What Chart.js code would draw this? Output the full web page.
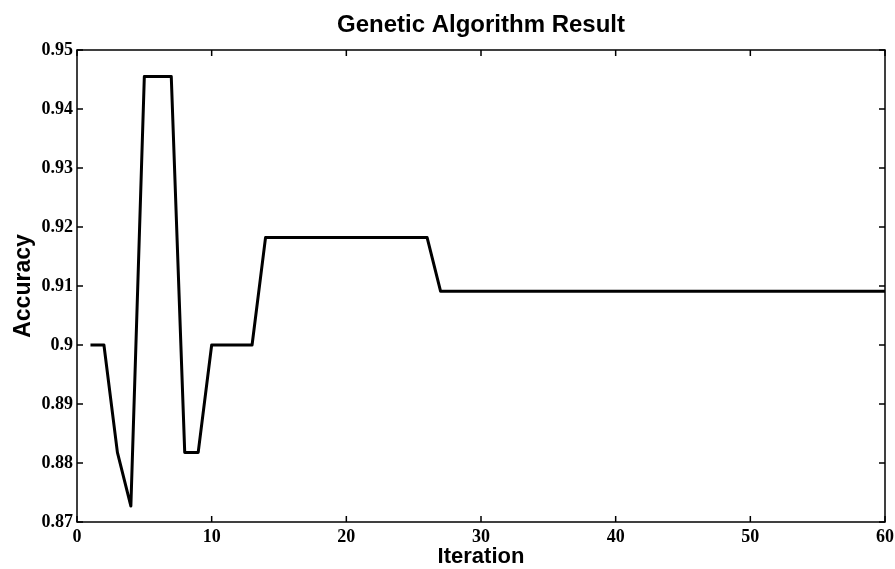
<!DOCTYPE html>
<html>
<head>
<meta charset="utf-8">
<script src="https://cdn.jsdelivr.net/npm/chart.js@4/dist/chart.umd.min.js"></script>
<style>
    html, body { margin: 0; padding: 0; background: #fff; }
    #wrap { width: 895px; height: 569px; }
</style>
</head>
<body>
<div id="wrap"><canvas id="gaChart" width="895" height="569"></canvas></div>
<script>
// iteration numbers and best accuracy per iteration
const iterations = [
    1, 2, 3, 4, 5, 6, 7, 8, 9, 10,
    11, 12, 13, 14, 15, 16, 17, 18, 19, 20,
    21, 22, 23, 24, 25, 26, 27, 28, 29, 30,
    31, 32, 33, 34, 35, 36, 37, 38, 39, 40,
    41, 42, 43, 44, 45, 46, 47, 48, 49, 50,
    51, 52, 53, 54, 55, 56, 57, 58, 59, 60
];
const accuracy = [
    0.9000, 0.9000, 0.8818, 0.8727, 0.9455, 0.9455, 0.9455, 0.8818, 0.8818, 0.9000,
    0.9000, 0.9000, 0.9000, 0.9182, 0.9182, 0.9182, 0.9182, 0.9182, 0.9182, 0.9182,
    0.9182, 0.9182, 0.9182, 0.9182, 0.9182, 0.9182, 0.9091, 0.9091, 0.9091, 0.9091,
    0.9091, 0.9091, 0.9091, 0.9091, 0.9091, 0.9091, 0.9091, 0.9091, 0.9091, 0.9091,
    0.9091, 0.9091, 0.9091, 0.9091, 0.9091, 0.9091, 0.9091, 0.9091, 0.9091, 0.9091,
    0.9091, 0.9091, 0.9091, 0.9091, 0.9091, 0.9091, 0.9091, 0.9091, 0.9091, 0.9091
];
const xTicks = [0, 10, 20, 30, 40, 50, 60];
const yTicks = [0.87, 0.88, 0.89, 0.9, 0.91, 0.92, 0.93, 0.94, 0.95];

const chartTitle = 'Genetic Algorithm Result';
const xLabel = 'Iteration';
const yLabel = 'Accuracy';

// matlab style box with inward ticks on all four sides
const boxTicks = {
    id: 'boxTicks',
    afterDraw(chart) {
        const { ctx, chartArea: a, scales } = chart;
        const len = 6;
        ctx.save();
        ctx.strokeStyle = '#000';
        ctx.lineWidth = 1.5;
        ctx.strokeRect(a.left, a.top, a.right - a.left, a.bottom - a.top);
        ctx.beginPath();
        xTicks.forEach(v => {
            const px = scales.x.getPixelForValue(v);
            ctx.moveTo(px, a.bottom); ctx.lineTo(px, a.bottom - len);
            ctx.moveTo(px, a.top); ctx.lineTo(px, a.top + len);
        });
        yTicks.forEach(v => {
            const py = scales.y.getPixelForValue(v);
            ctx.moveTo(a.left, py); ctx.lineTo(a.left + len, py);
            ctx.moveTo(a.right, py); ctx.lineTo(a.right - len, py);
        });
        ctx.stroke();
        ctx.restore();
    }
};

const tickFont = { family: 'Liberation Serif', size: 18, weight: 'bold' };

new Chart(document.getElementById('gaChart'), {
    type: 'line',
    data: {
        datasets: [{
            data: iterations.map((it, i) => ({ x: it, y: accuracy[i] })),
            borderColor: '#000',
            borderWidth: 3,
            borderJoinStyle: 'round',
            pointRadius: 0,
            tension: 0,
            fill: false
        }]
    },
    options: {
        responsive: false,
        animation: false,
        layout: { padding: { left: 0, right: 10, top: 0, bottom: 0 } },
        plugins: {
            legend: { display: false },
            tooltip: { enabled: false },
            title: { display: false }
        },
        scales: {
            x: {
                type: 'linear',
                min: 0,
                max: 60,
                afterBuildTicks: s => { s.ticks = xTicks.map(v => ({ value: v })); },
                afterFit: s => { s.height = 47; s.paddingLeft = 0; s.paddingRight = 0; },
                grid: { display: false, drawTicks: false },
                border: { display: false },
                ticks: { color: '#000', font: tickFont, padding: 5, maxRotation: 0 },
                title: {
                    display: true, text: xLabel, color: '#000',
                    font: { family: 'Liberation Sans', size: 22, weight: 'bold', lineHeight: 1 },
                    padding: { top: 0, bottom: 1 }
                }
            },
            x2: {
                type: 'linear',
                position: 'top',
                min: 0,
                max: 60,
                afterFit: s => { s.height = 50; s.paddingLeft = 0; s.paddingRight = 0; },
                grid: { display: false, drawTicks: false },
                border: { display: false },
                ticks: { display: false },
                title: {
                    display: true, text: chartTitle, color: '#000',
                    font: { family: 'Liberation Sans', size: 24, weight: 'bold', lineHeight: 1 },
                    padding: { top: 13, bottom: 0 }
                }
            },
            y: {
                type: 'linear',
                min: 0.87,
                max: 0.95,
                afterBuildTicks: s => { s.ticks = yTicks.map(v => ({ value: v })); },
                afterFit: s => { s.width = 77; },
                grid: { display: false, drawTicks: false },
                border: { display: false },
                ticks: {
                    color: '#000', font: tickFont, padding: 4,
                    callback: v => String(+v.toFixed(2))
                },
                title: {
                    display: true, text: yLabel, color: '#000',
                    font: { family: 'Liberation Sans', size: 23, weight: 'bold', lineHeight: 1 },
                    padding: { top: 12, bottom: 0 }
                }
            }
        }
    },
    plugins: [boxTicks]
});
</script>
</body>
</html>
